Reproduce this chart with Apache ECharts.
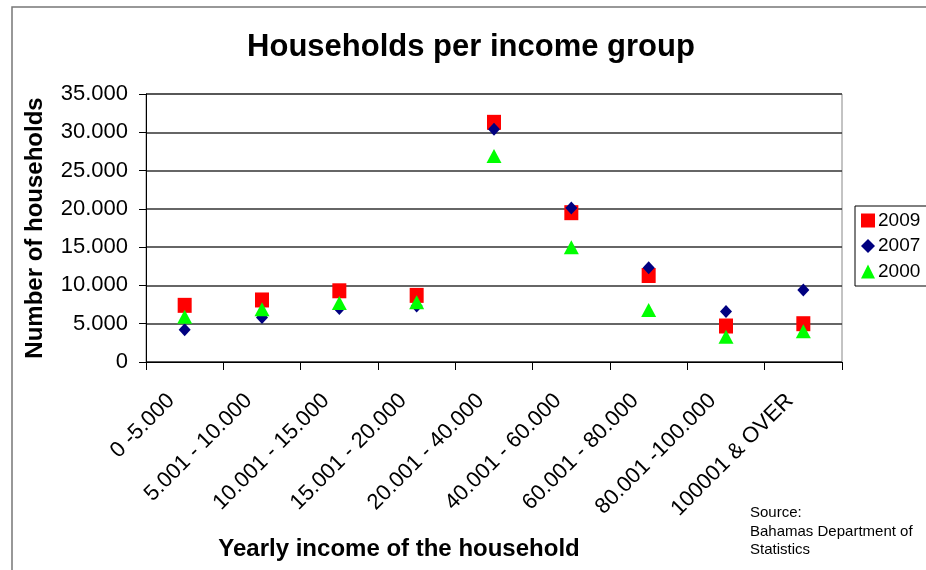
<!DOCTYPE html>
<html><head><meta charset="utf-8">
<script src="https://cdn.jsdelivr.net/npm/echarts@6/dist/echarts.min.js"></script>
<style>html,body{margin:0;padding:0;background:#fff}#c{width:926px;height:570px}</style>
</head><body><div id="c"></div>
<script>
const categories = ['0 -5.000','5.001 - 10.000','10.001 - 15.000','15.001 - 20.000','20.001 - 40.000','40.001 - 60.000','60.001 - 80.000','80.001 -100.000','100001 & OVER'];
const s2009 = [7400, 8100, 9300, 8700, 31300, 19500, 11300, 4700, 5000];
const s2007 = [4200, 5800, 7000, 7300, 30400, 20100, 12300, 6600, 9400];
const s2000 = [5900, 6900, 7700, 7800, 26900, 15000, 6800, 3300, 4000];
const yTicks = {min: 0, max: 35000, interval: 5000};

const chart = echarts.init(document.getElementById('c'));
const fmt = v => v === 0 ? '0' : String(v).replace(/\B(?=(\d{3})+(?!\d))/g, '.');
const F = 'Liberation Sans, Arial, sans-serif';
chart.setOption({
  animation: false,
  backgroundColor: '#fff',
  textStyle: {fontFamily: F},
  title: {text: 'Households per income group', left: 466, top: 27, textAlign: 'center',
    textStyle: {fontSize: 31, fontWeight: 'bold', color: '#000', fontFamily: F}},
  graphic: [
    {type: 'rect', shape: {x: 12, y: 7, width: 1000, height: 700}, style: {fill: 'none', stroke: '#777', lineWidth: 1.5}, silent: true, z: -1},
    {type: 'text', left: 750, top: 504, style: {text: 'Source:\nBahamas Department of\nStatistics', fontSize: 15, lineHeight: 18.5, fill: '#000', fontFamily: F}}
  ],
  legend: {orient: 'vertical', left: 855, top: 206, data: ['2009','2007','2000'],
    borderColor: '#000', borderWidth: 1, padding: [5, 12, 5, 6], itemGap: 6.5,
    itemWidth: 14, itemHeight: 14,
    textStyle: {fontSize: 19, color: '#000', fontFamily: F, padding: [0,0,0,-2]}},
  grid: {left: 146, right: 84, top: 94, bottom: 208, show: true, borderColor: '#888', borderWidth: 1},
  xAxis: {type: 'category', data: categories, boundaryGap: true,
    name: 'Yearly income of the household', nameLocation: 'middle', nameGap: 175,
    nameTextStyle: {fontSize: 24, fontWeight: 'bold', color: '#000', fontFamily: F, padding: [0, 190, 0, 0]},
    axisLine: {lineStyle: {color: '#000', width: 1}},
    axisTick: {show: true, length: 8, lineStyle: {color: '#000'}},
    axisLabel: {rotate: 45, color: '#000', margin: 22, interval: 0, fontFamily: F, fontSize: 22,
      formatter: v => '{a|' + v + '}',
      rich: {a: {fontSize: 22, color: '#000', fontFamily: F, padding: [0, 19, 0, 0]}}},
    splitLine: {show: false}},
  yAxis: {type: 'value', min: yTicks.min, max: yTicks.max, interval: yTicks.interval,
    name: 'Number of households', nameLocation: 'middle', nameGap: 99,
    nameTextStyle: {fontSize: 24, fontWeight: 'bold', color: '#000', fontFamily: F},
    axisLine: {show: true, lineStyle: {color: '#000', width: 1}},
    axisTick: {show: true, length: 7, lineStyle: {color: '#000'}},
    axisLabel: {fontSize: 22, color: '#000', margin: 18, formatter: fmt, fontFamily: F},
    splitLine: {show: true, lineStyle: {color: '#333', width: 1.5}}},
  series: [
    {name: '2009', type: 'scatter', data: s2009, symbol: 'rect', symbolSize: [14, 15], itemStyle: {color: '#ff0000', opacity: 1}},
    {name: '2007', type: 'scatter', data: s2007, symbol: 'diamond', symbolSize: [12, 13], itemStyle: {color: '#000080', opacity: 1}},
    {name: '2000', type: 'scatter', data: s2000, symbol: 'triangle', symbolSize: [15, 14], itemStyle: {color: '#00ff00', opacity: 1}}
  ]
});
</script></body></html>
